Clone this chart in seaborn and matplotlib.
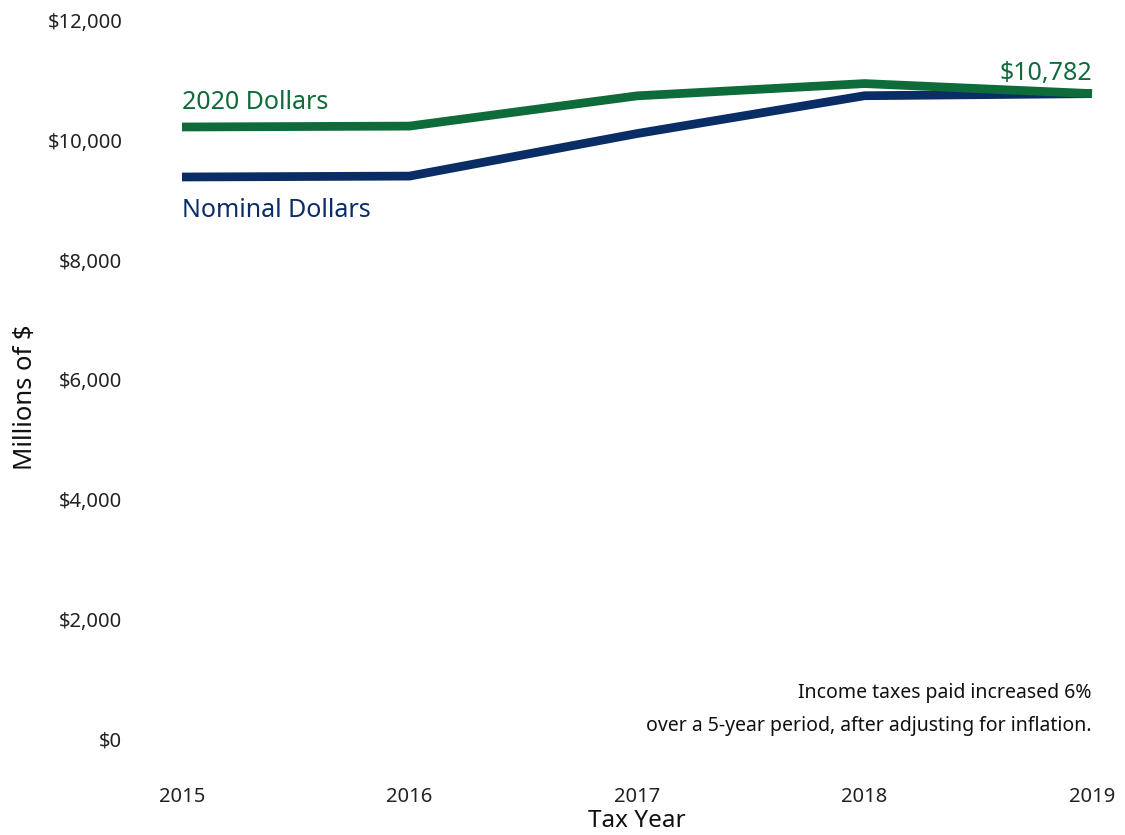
import matplotlib
matplotlib.use("Agg")
import matplotlib.pyplot as plt
import seaborn as sns
import pandas as pd

years = [2015, 2016, 2017, 2018, 2019]
real_2020 = [10225, 10240, 10745, 10950, 10782]
nominal = [9390, 9405, 10115, 10747, 10782]
series_names = ["2020 Dollars", "Nominal Dollars"]
yticks = [0, 2000, 4000, 6000, 8000, 10000, 12000]
ytick_labels = ["$0", "$2,000", "$4,000", "$6,000", "$8,000", "$10,000", "$12,000"]

GREEN = "#0E6B3A"
BLUE = "#0B2D66"

sns.set_theme(style="white")
plt.rcParams["font.family"] = ["Noto Sans", "DejaVu Sans"]

df = pd.DataFrame({
    "year": years * 2,
    "value": real_2020 + nominal,
    "series": [series_names[0]] * len(years) + [series_names[1]] * len(years),
})

fig = plt.figure(figsize=(11.25, 8.35), dpi=100)
ax = fig.add_axes([182 / 1125, 1 - 739.3 / 835, (1092 - 182) / 1125, (739.3 - 20.7) / 835])

sns.lineplot(data=df, x="year", y="value", hue="series", hue_order=series_names[::-1],
             palette={series_names[0]: GREEN, series_names[1]: BLUE},
             linewidth=6.3, ax=ax, legend=False, sort=False)
for ln in ax.get_lines():
    ln.set_clip_on(False)
    ln.set_solid_capstyle("butt")
    ln.set_solid_joinstyle("miter")

ax.set_xlim(2015, 2019)
ax.set_ylim(0, 12000)
ax.set_xticks(years)
ax.set_xticklabels([str(y) for y in years], fontsize=14.5, color="#222222")
ax.set_yticks(yticks)
ax.set_yticklabels(ytick_labels, fontsize=14.5, color="#222222")
ax.tick_params(axis="y", length=0, pad=43)
ax.tick_params(axis="x", length=0, pad=34.5)
for s in ax.spines.values():
    s.set_visible(False)
ax.grid(False)

ax.set_xlabel("Tax Year", fontsize=17.5, color="#111111", va="center")
ax.xaxis.set_label_coords(0.5, (739.3 - 821) / 718.6)
ax.set_ylabel("Millions of $", fontsize=18.5, color="#111111", va="center")
ax.yaxis.set_label_coords((26 - 182) / 910, (739.3 - 397) / 718.6)

ax.text(2015, 10640, "2020 Dollars", color=GREEN, fontsize=18, ha="left", va="center")
ax.text(2015, 8830, "Nominal Dollars", color=BLUE, fontsize=18, ha="left", va="center")
ax.text(2019, 11120, "$10,782", color=GREEN, fontsize=18, ha="right", va="center")

ax.text(2019, 780, "Income taxes paid increased 6%", color="#111111", fontsize=14,
        ha="right", va="center")
ax.text(2019, 215, "over a 5-year period, after adjusting for inflation.", color="#111111",
        fontsize=14, ha="right", va="center")

fig.savefig("out.png", dpi=100, facecolor="white")
